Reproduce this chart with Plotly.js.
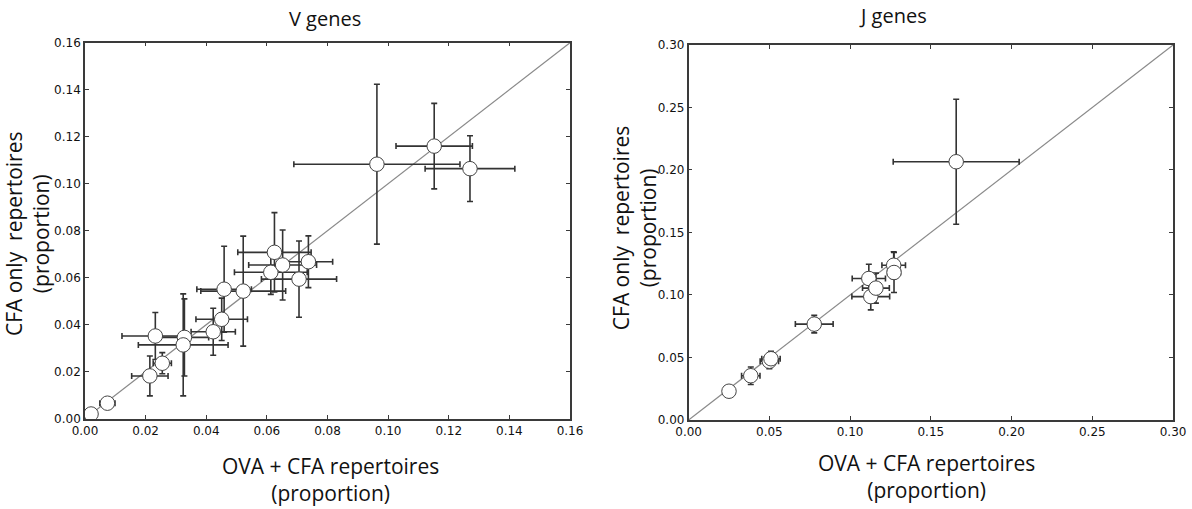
<!DOCTYPE html>
<html lang="en" dir="ltr">
  <head>
    <meta charset="utf-8">
    <title></title>
    <script src="https://cdn.plot.ly/plotly-3.0.1.min.js" charset="utf-8"></script>
  </head>
  <body style="margin:0">
    <div id="plot" style="width:1192px;height:509px"></div>
    <script type="text/javascript">
      // V genes: OVA+CFA (x) vs CFA only (y), with SDs
      const vX    = [0.002, 0.0074, 0.0214, 0.0255, 0.0232, 0.0328, 0.0324, 0.0423, 0.0451, 0.0459, 0.0522, 0.0625, 0.0613, 0.0652, 0.0706, 0.0737, 0.0963, 0.1152, 0.1270];
      const vY    = [0.002, 0.0066, 0.0182, 0.0236, 0.0352, 0.0346, 0.0314, 0.0370, 0.0423, 0.0551, 0.0543, 0.0708, 0.0623, 0.0654, 0.0594, 0.0668, 0.1083, 0.1160, 0.1064];
      const vXErr = [0, 0.0025, 0.006, 0.003, 0.011, 0.008, 0.0148, 0.0073, 0.0085, 0.009, 0.014, 0.0121, 0.012, 0.0112, 0.0124, 0.008, 0.0274, 0.0126, 0.0148];
      const vYErr = [0, 0.001, 0.0085, 0.0045, 0.010, 0.0164, 0.0217, 0.010, 0.009, 0.0183, 0.0234, 0.0169, 0.0094, 0.0149, 0.0162, 0.011, 0.034, 0.0182, 0.014];

      // J genes
      const jX    = [0.025, 0.0385, 0.050, 0.051, 0.0778, 0.1116, 0.1128, 0.116, 0.127, 0.1272, 0.1657];
      const jY    = [0.023, 0.0354, 0.047, 0.049, 0.0767, 0.1132, 0.0987, 0.1055, 0.1238, 0.118, 0.2066];
      const jXErr = [0, 0.0057, 0.0057, 0.0057, 0.0117, 0.0103, 0.0117, 0.0083, 0.0073, 0.004, 0.039];
      const jYErr = [0, 0.007, 0.006, 0.006, 0.007, 0.0114, 0.0106, 0.012, 0.0108, 0.016, 0.05];

      const vRange = [0, 0.16];
      const jRange = [0, 0.30];

      const AXCOL = '#3a3a3a';
      const ERRCOL = '#333333';
      const TICKFONT = {family:'DejaVu Sans', size:12, color:'#111'};
      const LABFONT = {family:'Open Sans', size:21, color:'#111'};
      const TITLEFONT = {family:'Open Sans', size:20, color:'#111'};

      function pts(x, y, xe, ye, xa, ya) {
        return {
          x:x, y:y, xaxis:xa, yaxis:ya,
          type:'scatter', mode:'markers',
          error_x:{type:'data', array:xe, visible:true, color:ERRCOL, thickness:1.6, width:3},
          error_y:{type:'data', array:ye, visible:true, color:ERRCOL, thickness:1.6, width:3},
          marker:{symbol:'circle', size:14.5, color:'white', line:{color:'#444', width:1}},
          hoverinfo:'x+y'
        };
      }
      function diag(r, xa, ya) {
        return {
          x:r, y:r, xaxis:xa, yaxis:ya,
          type:'scatter', mode:'lines',
          line:{color:'#8a8a8a', width:1.2},
          hoverinfo:'skip'
        };
      }
      function axis(r, dt, dom, anchor) {
        return {
          range:r, domain:dom, anchor:anchor,
          dtick:dt, tick0:0, tickformat:'.2f',
          ticks:'inside', ticklen:4, tickwidth:1, tickcolor:AXCOL,
          showline:true, linecolor:AXCOL, linewidth:1.5, mirror:'ticks',
          showgrid:false, zeroline:false,
          tickfont:TICKFONT
        };
      }

      const traces = [
        diag(vRange, 'x', 'y'),
        pts(vX, vY, vXErr, vYErr, 'x', 'y'),
        diag(jRange, 'x2', 'y2'),
        pts(jX, jY, jXErr, jYErr, 'x2', 'y2')
      ];

      const layout = {
        width:1192, height:509,
        margin:{l:0, r:0, t:0, b:0},
        showlegend:false,
        paper_bgcolor:'white', plot_bgcolor:'white',
        xaxis:axis(vRange, 0.02, [0.0713, 0.4782], 'y'),
        yaxis:axis(vRange, 0.02, [0.1774, 0.9161], 'x'),
        xaxis2:axis(jRange, 0.05, [0.5777, 0.9841], 'y2'),
        yaxis2:axis(jRange, 0.05, [0.1749, 0.9116], 'x2'),
        annotations:[
          {text:'V genes', xref:'paper', yref:'paper', x:0.2727, y:0.9646, showarrow:false, xanchor:'center', yanchor:'middle', font:TITLEFONT},
          {text:'J genes', xref:'paper', yref:'paper', x:0.749, y:1, showarrow:false, xanchor:'center', yanchor:'top', font:TITLEFONT},
          {text:'OVA + CFA repertoires<br>(proportion)', xref:'paper', yref:'paper', x:0.277, y:0.057, showarrow:false, xanchor:'center', yanchor:'middle', font:LABFONT},
          {text:'OVA + CFA repertoires<br>(proportion)', xref:'paper', yref:'paper', x:0.777, y:0.063, showarrow:false, xanchor:'center', yanchor:'middle', font:LABFONT},
          {text:'CFA only  repertoires<br>(proportion)', xref:'paper', yref:'paper', x:0.0225, y:0.54, textangle:-90, showarrow:false, xanchor:'center', yanchor:'middle', font:LABFONT},
          {text:'CFA only  repertoires<br>(proportion)', xref:'paper', yref:'paper', x:0.532, y:0.552, textangle:-90, showarrow:false, xanchor:'center', yanchor:'middle', font:LABFONT}
        ]
      };

      Plotly.newPlot(document.getElementById('plot'), traces, layout, {displayModeBar:false});
    </script>
  </body>
</html>
